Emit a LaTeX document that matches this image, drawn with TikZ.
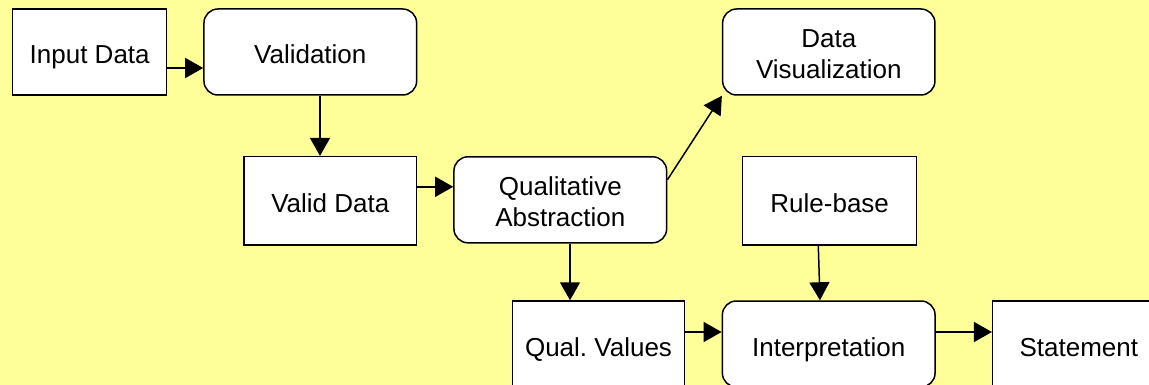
\documentclass[tikz,border=0pt]{standalone}
\usepackage{fontspec}
\setmainfont{Liberation Sans}
\usepackage{tikz}
\usepackage{xcolor}
\usetikzlibrary{arrows.meta}
\definecolor{paleyellow}{RGB}{255,255,153}

\begin{document}
\begin{tikzpicture}[x=1pt, y=-1pt,
    box/.style={draw, line width=1.5pt, fill=white, minimum height=86pt,
        inner sep=0pt, align=center, text height=30pt, text depth=6pt,
        font=\fontsize{26}{31.5}\selectfont},
    roundbox/.style={box, rounded corners=14pt},
    twolines/.style={text height=54pt, text depth=0pt},
    arr/.style={line width=1.5pt, -{Triangle[length=18pt, width=20pt]}}]
    % Background
    \clip (0,0) rectangle (1149,385);
    \fill[paleyellow] (0,0) rectangle (1149,385);

    % Top row
    \node[box, minimum width=154pt] (input) at (89.7,52) {Input Data};
    \node[roundbox, minimum width=212.7pt] (validation) at (310.3,52) {Validation};
    \node[roundbox, twolines, minimum width=212.3pt] (dataviz) at (828.8,52) {Data\\Visualization};

    % Middle row
    \node[box, minimum width=172.7pt, minimum height=88.3pt] (valid) at (330.3,200.8) {Valid Data};
    \node[roundbox, twolines, minimum width=212.7pt] (qual) at (560.3,199.8) {Qualitative\\Abstraction};
    \node[box, minimum width=174pt, minimum height=88.3pt] (rules) at (829.7,200.8) {Rule-base};

    % Bottom row
    \node[box, minimum width=171.6pt] (values) at (598.5,344) {Qual.\ Values};
    \node[roundbox, minimum width=212.7pt] (interp) at (828.7,344) {Interpretation};
    \node[box, minimum width=172.3pt] (statement) at (1078.8,344) {Statement};

    % Connectors
    \draw[arr] ([yshift=-16pt]input.east) -- ([yshift=-16pt]validation.west);
    \draw[arr] ([xshift=9.7pt]validation.south) -- ([xshift=-10.3pt]valid.north);
    \draw[arr] ([yshift=14pt]valid.east) -- ([yshift=13pt]qual.west);
    \draw[arr] ([yshift=20pt]qual.east) -- (dataviz.south west);
    \draw[arr] ([xshift=9.7pt]qual.south) -- ([xshift=-28.5pt]values.north);
    \draw[arr] ([xshift=-11.4pt]rules.south) -- ([xshift=-8.7pt]interp.north);
    \draw[arr] ([yshift=12pt]values.east) -- ([yshift=12pt]interp.west);
    \draw[arr] ([yshift=12pt]interp.east) -- ([yshift=12pt]statement.west);
\end{tikzpicture}
\end{document}
